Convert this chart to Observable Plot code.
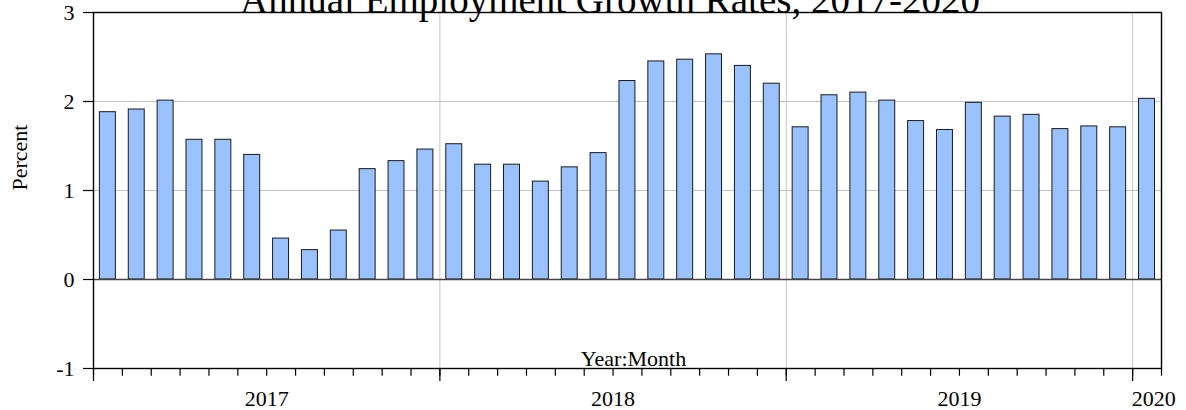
<!DOCTYPE html>
<html>
<head>
<meta charset="utf-8">
<script src="https://cdn.jsdelivr.net/npm/d3@7"></script>
<script src="https://cdn.jsdelivr.net/npm/@observablehq/plot@0.6"></script>
<style>
  html, body { margin: 0; padding: 0; background: #fff; overflow: hidden; }
  #wrap { position: relative; width: 1186px; height: 410px; }
  #title {
    position: absolute; left: 610px; top: -20.5px; transform: translateX(-50%);
    font-family: "Liberation Serif", "Times New Roman", serif; font-size: 39px; line-height: 39px;
    white-space: nowrap; color: #000; z-index: 2; margin: 0; font-weight: normal;
  }
  #chart svg { display: block; }
  #chart svg text { font-family: "Liberation Serif", "Times New Roman", serif; }
</style>
</head>
<body>
<div id="wrap">
  <div id="chart"></div>
  <h1 id="title">Annual Employment Growth Rates, 2017-2020</h1>
</div>
<script>
const months = [
  "2017-01","2017-02","2017-03","2017-04","2017-05","2017-06","2017-07","2017-08","2017-09","2017-10","2017-11","2017-12",
  "2018-01","2018-02","2018-03","2018-04","2018-05","2018-06","2018-07","2018-08","2018-09","2018-10","2018-11","2018-12",
  "2019-01","2019-02","2019-03","2019-04","2019-05","2019-06","2019-07","2019-08","2019-09","2019-10","2019-11","2019-12",
  "2020-01"
];
const growth = [
  1.88, 1.91, 2.01, 1.57, 1.57, 1.40, 0.46, 0.33, 0.55, 1.24, 1.33, 1.46,
  1.52, 1.29, 1.29, 1.10, 1.26, 1.42, 2.23, 2.45, 2.47, 2.53, 2.40, 2.20,
  1.71, 2.07, 2.10, 2.01, 1.78, 1.68, 1.985, 1.83, 1.85, 1.69, 1.72, 1.71,
  2.03
];
const years = ["2017", "2018", "2019", "2020"];
const yTicks = [-1, 0, 1, 2, 3];
const gridValues = [1, 2];

const font = '"Liberation Serif", "Times New Roman", serif';
const fs = 22;

const data = months.map((m, i) => ({month: m, i, value: growth[i]}));
const yearInfo = years.map(y => {
  const idx = months.map((m, i) => m.startsWith(y) ? i : -1).filter(i => i >= 0);
  return {year: y, first: idx[0], count: idx.length, mid: idx[0] + idx.length / 2};
});
const fullYears = yearInfo.filter(d => d.count === 12);
const partYears = yearInfo.filter(d => d.count < 12);
const yearStarts = yearInfo.map(d => d.first);
const monthEdges = d3.range(0, months.length + 1);

const chart = Plot.plot({
  width: 1186,
  height: 410,
  marginLeft: 93,
  marginRight: 25,
  marginTop: 12,
  marginBottom: 42,
  style: {fontFamily: font, fontSize: fs + "px", background: "transparent", color: "#000", overflow: "visible"},
  x: {type: "linear", domain: [0, months.length], axis: null},
  y: {domain: [-1, 3], axis: null},
  marks: [
    Plot.gridY(gridValues, {stroke: "#c4c4c4", strokeOpacity: 1, strokeWidth: 1}),
    Plot.gridX(yearStarts.filter(d => d > 0), {stroke: "#c4c4c4", strokeOpacity: 1, strokeWidth: 1}),
    Plot.rectY(data, {
      x1: "i", x2: d => d.i + 1, y1: 0, y2: "value",
      insetLeft: 6.4, insetRight: 6.5,
      fill: "#99c2ff", stroke: "#1a1a1a", strokeWidth: 1
    }),
    Plot.ruleY([0], {stroke: "#444", strokeWidth: 1.5}),
    Plot.frame({stroke: "#000", strokeWidth: 1.4}),
    Plot.axisY({ticks: yTicks, tickSize: 10, tickPadding: 9, tickFormat: d => String(d), label: null,
      stroke: "#000", strokeWidth: 1.2, fontFamily: font, fontSize: fs, fill: "#000"}),
    Plot.axisX({ticks: monthEdges, tickSize: 7.7, tickFormat: () => "", label: null, stroke: "#000", strokeWidth: 1.2}),
    Plot.axisX({ticks: yearStarts, tickSize: 13, tickFormat: () => "", label: null, stroke: "#000", strokeWidth: 1.2}),
    Plot.text(fullYears, {x: "mid", text: "year", frameAnchor: "bottom", lineAnchor: "bottom", dy: 37,
      textAnchor: "middle", fill: "#000", fontFamily: font, fontSize: fs}),
    Plot.text(partYears, {x: "first", text: "year", frameAnchor: "bottom", lineAnchor: "bottom", dy: 37, dx: -1,
      textAnchor: "start", fill: "#000", fontFamily: font, fontSize: fs}),
    Plot.text(["Year:Month"], {frameAnchor: "bottom", lineAnchor: "bottom", dy: -3, dx: 6, fill: "#000",
      fontFamily: font, fontSize: fs}),
    Plot.text(["Percent"], {frameAnchor: "left", dx: -74, rotate: -90, fill: "#000", fontFamily: font, fontSize: fs})
  ]
});
document.getElementById("chart").appendChild(chart);
</script>
</body>
</html>
